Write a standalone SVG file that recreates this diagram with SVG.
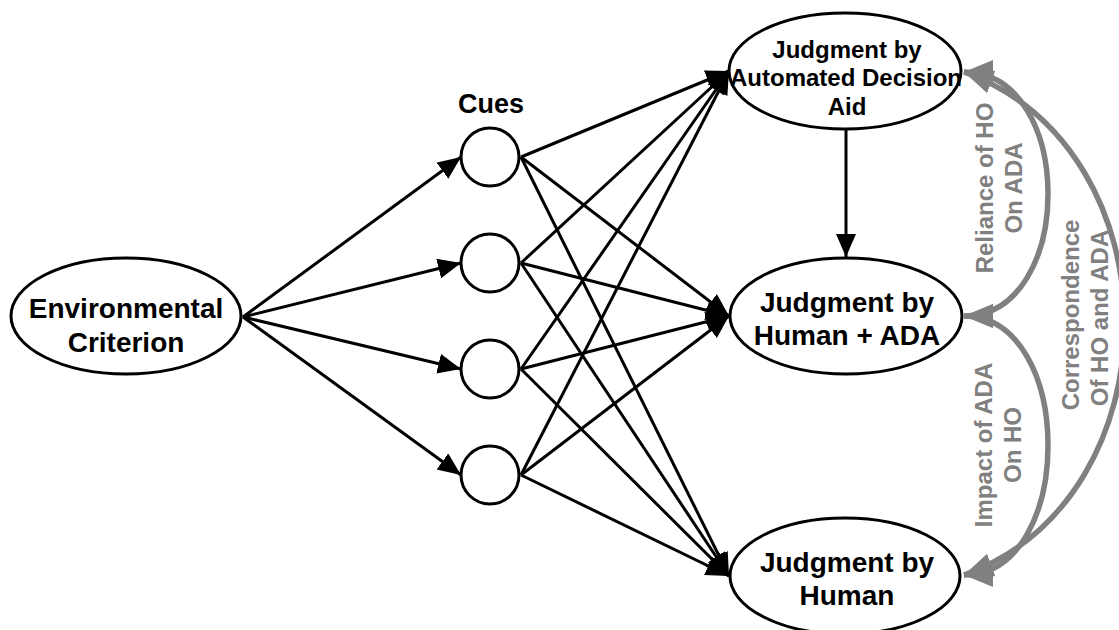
<svg xmlns="http://www.w3.org/2000/svg" width="1119" height="630" viewBox="0 0 1119 630">
<defs>
<marker id="ab" markerUnits="userSpaceOnUse" markerWidth="26" markerHeight="22" refX="23" refY="10" orient="auto"><path d="M0,0 L23,10 L0,20 z" fill="#000"/></marker>
<marker id="ag" markerUnits="userSpaceOnUse" markerWidth="32" markerHeight="28" refX="29" refY="12" orient="auto-start-reverse"><path d="M0,0 L29,12 L0,24 z" fill="#808080"/></marker>
</defs>
<style>
.n{fill:#fff;stroke:#000;stroke-width:3}
.t{font-family:"Liberation Sans",Arial,sans-serif;font-weight:bold;fill:#000;text-anchor:middle}
.g{font-family:"Liberation Sans",Arial,sans-serif;font-weight:bold;fill:#808080;text-anchor:middle;font-size:24px}
.e{stroke:#000;stroke-width:3;fill:none;marker-end:url(#ab)}
.c{stroke:#808080;stroke-width:5.5;fill:none;marker-start:url(#ag);marker-end:url(#ag)}
</style>
<rect width="1119" height="630" fill="#fff"/>
<g id="connectors">
<line class="e" x1="243" y1="317" x2="461" y2="157"/>
<line class="e" x1="243" y1="317" x2="461" y2="263"/>
<line class="e" x1="243" y1="317" x2="461" y2="369"/>
<line class="e" x1="243" y1="317" x2="461" y2="475"/>
<line class="e" x1="521" y1="157" x2="729" y2="71"/>
<line class="e" x1="521" y1="157" x2="729" y2="316"/>
<line class="e" x1="521" y1="157" x2="729" y2="576"/>
<line class="e" x1="521" y1="263" x2="729" y2="71"/>
<line class="e" x1="521" y1="263" x2="729" y2="316"/>
<line class="e" x1="521" y1="263" x2="729" y2="576"/>
<line class="e" x1="521" y1="369" x2="729" y2="71"/>
<line class="e" x1="521" y1="369" x2="729" y2="316"/>
<line class="e" x1="521" y1="369" x2="729" y2="576"/>
<line class="e" x1="521" y1="475" x2="729" y2="71"/>
<line class="e" x1="521" y1="475" x2="729" y2="316"/>
<line class="e" x1="521" y1="475" x2="729" y2="576"/>
<line class="e" x1="846" y1="129" x2="846" y2="257"/>
<path class="c" d="M964,72 C1076,72 1076,316 964,316"/>
<path class="c" d="M964,316 C1076,316 1076,575 964,575"/>
<path class="c" d="M964,72 C1178,150 1178,497 964,575"/>
</g>
<g id="env">
<ellipse class="n" cx="126" cy="316" rx="115" ry="58"/>
<text class="t" font-size="28" x="126" y="318">Environmental</text>
<text class="t" font-size="28" x="126" y="352">Criterion</text>
</g>
<g id="cues-label"><text class="t" font-size="27" x="491" y="113">Cues</text></g>
<g id="cue1"><circle class="n" cx="490" cy="157" r="29"/></g>
<g id="cue2"><circle class="n" cx="490" cy="263" r="29"/></g>
<g id="cue3"><circle class="n" cx="490" cy="369" r="29"/></g>
<g id="cue4"><circle class="n" cx="490" cy="475" r="29"/></g>
<g id="ada">
<ellipse class="n" cx="845" cy="71" rx="116" ry="58"/>
<text class="t" font-size="24" x="847" y="58">Judgment by</text>
<text class="t" font-size="24" x="846" y="86">Automated Decision</text>
<text class="t" font-size="24" x="847" y="115">Aid</text>
</g>
<g id="human-ada">
<ellipse class="n" cx="846" cy="316" rx="116" ry="58"/>
<text class="t" font-size="28" x="847" y="312">Judgment by</text>
<text class="t" font-size="28" x="847" y="345">Human + ADA</text>
</g>
<g id="human">
<ellipse class="n" cx="845" cy="576" rx="115" ry="58"/>
<text class="t" font-size="28" x="847" y="572">Judgment by</text>
<text class="t" font-size="28" x="847" y="605">Human</text>
</g>
<g id="labels">
<text class="g" transform="translate(993,188) rotate(-90)">Reliance of HO</text>
<text class="g" transform="translate(1022,188) rotate(-90)">On ADA</text>
<text class="g" transform="translate(992,445) rotate(-90)">Impact of ADA</text>
<text class="g" transform="translate(1021,445) rotate(-90)">On HO</text>
<text class="g" transform="translate(1079,315) rotate(-90)">Correspondence</text>
<text class="g" transform="translate(1108,318) rotate(-90)">Of HO and ADA</text>
</g>
</svg>
